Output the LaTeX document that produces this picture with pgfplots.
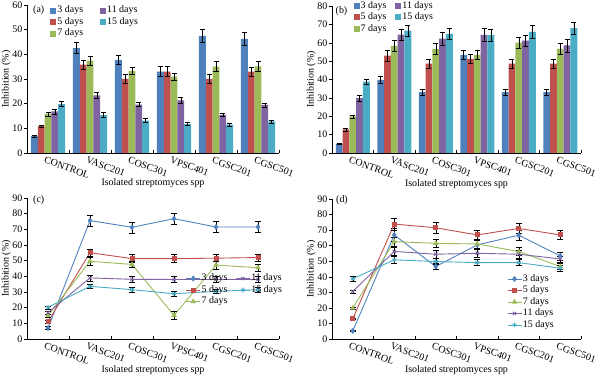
\documentclass[border=0pt]{standalone}
\usepackage{pgfplots}
\usepackage{pgfplotstable}
\pgfplotsset{compat=1.18}
\usepackage{fontspec}
\setmainfont{Liberation Serif}
\newcommand{\fsz}{\fontsize{10}{12}\selectfont}
\definecolor{cA}{HTML}{4F81BD}
\definecolor{cB}{HTML}{C0504D}
\definecolor{cC}{HTML}{9BBB59}
\definecolor{cD}{HTML}{8064A2}
\definecolor{cE}{HTML}{4BACC6}

% x: 0 CONTROL,1 VASC201,2 COSC301,3 VPSC401,4 CGSC201,5 CGSC501
\pgfplotstableread{
x  a    ea   b    eb   c    ec   d    ed   e    ee
0  6.8  0.5  10.9 0.5  15.9 0.8  16.9 1.0  19.8 1.0
1  42.5 2.2  35.8 2.0  37.4 2.0  23.4 1.2  15.4 1.0
2  37.8 2.0  30.0 1.8  33.3 1.5  19.6 0.8  13.1 0.8
3  33.0 2.0  33.0 2.0  31.0 1.5  21.3 1.3  11.7 0.6
4  47.5 2.5  30.0 1.8  35.0 2.0  15.5 0.8  11.5 0.6
5  46.3 2.5  33.0 1.8  35.1 2.0  19.5 0.8  12.8 0.6
}\tabA
\pgfplotstableread{
x  a    ea   b    eb   c    ec   d    ed   e    ee
0  4.9  0.3  12.8 0.8  19.9 0.8  29.9 1.5  38.9 1.5
1  39.8 2.0  53.0 2.8  58.3 3.0  64.4 3.2  66.6 3.0
2  33.1 1.5  48.6 2.5  56.7 3.0  62.3 3.5  64.8 3.0
3  53.4 2.5  51.2 2.5  53.4 2.5  64.3 3.5  64.1 3.5
4  33.1 1.5  48.6 2.5  60.1 3.0  61.2 3.0  65.9 3.5
5  33.1 1.5  48.6 2.5  56.7 3.0  58.6 3.5  67.9 3.5
}\tabB
\pgfplotstableread{
x  a    ea   b    eb   c    ec   d    ed   e    ee
0  7.0  1.0  11.0 1.0  15.0 1.0  16.8 1.0  20.2 1.0
1  75.6 3.5  55.1 2.2  49.6 2.5  39.0 2.0  33.6 1.5
2  71.3 3.5  51.3 2.5  47.6 2.0  38.1 2.0  31.5 1.5
3  76.8 3.5  51.3 2.5  15.1 2.5  38.0 2.0  28.9 1.5
4  71.5 3.5  51.6 2.2  47.2 2.5  38.0 2.0  30.4 1.5
5  71.5 3.5  52.0 2.2  45.5 2.5  38.0 2.0  31.5 1.5
}\tabC
\pgfplotstableread{
x  a    ea   b    eb   c    ec   d    ed   e    ee
0  5.2  0.5  13.0 0.5  19.9 0.5  30.6 1.0  38.7 1.5
1  66.9 4.0  73.9 4.0  62.6 3.0  56.3 2.5  50.9 2.0
2  46.6 2.0  71.5 3.5  61.5 2.5  54.5 2.5  49.8 2.0
3  60.5 3.0  66.9 3.0  61.1 2.5  55.1 2.5  49.1 2.0
4  66.7 3.0  71.1 3.0  56.2 2.5  54.5 2.5  49.1 2.0
5  53.4 2.5  66.9 3.0  46.6 2.0  51.5 2.0  45.5 2.0
}\tabD

\pgfplotsset{
  panel/.style={
    scale only axis, width=252bp,
    axis x line*=bottom, axis y line*=left,
    xmin=-0.5, xmax=5.5, ymin=0, clip=false,
    xtick={0,...,5},
    xticklabels={CONTROL,VASC201,COSC301,VPSC401,CGSC201,CGSC501},
    minor xtick={-0.5,0.5,...,5.5},
    tick align=outside,
    major tick length=3bp, minor tick length=3bp,
    major x tick style={draw=none},
    minor x tick style={yshift=3bp},
    tick style={black, line width=0.5bp},
    axis line style={black, line width=0.6bp},
    xticklabel style={rotate=-20, anchor=north west, inner sep=1bp, xshift=-3bp, font=\fsz},
    yticklabel style={font=\fsz, inner sep=1.5bp},
    /pgf/number format/assume math mode=true,
    ylabel={Inhibition (\%)}, xlabel={Isolated streptomyces spp},
    label style={font=\fsz},
    ylabel style={at={(axis description cs:-0.064,0.5)}, anchor=south, inner sep=0pt},
    legend cell align=left,
    legend style={draw=none, fill=none, inner sep=0pt, outer sep=0pt, font=\fsz,
      nodes={inner sep=1bp, text height=7bp, text depth=2.5bp}, row sep=0pt},
  },
  barpanel/.style={panel, ybar=0pt, bar width=6.8bp,
    legend image code/.code={\fill[##1] (0bp,-3bp) rectangle (6bp,3bp);},
    error bars/error bar style={draw=black, line width=0.5bp},
    error bars/error mark options={draw=black, rotate=90, mark size=2.5bp, line width=0.5bp},
  },
  linepanel/.style={panel, ytick={0,10,...,90}, ymax=90,
    legend image code/.code={\draw[mark repeat=2, mark phase=2, ##1] plot coordinates {(0bp,0bp) (7bp,0bp) (14bp,0bp)};},
    every axis plot/.append style={line width=0.9bp, mark size=2.3bp},
    error bars/error bar style={draw=black, line width=0.5bp, solid},
    error bars/error mark options={draw=black, rotate=90, mark size=3bp, line width=0.5bp},
  },
}

\begin{document}
\begin{tikzpicture}
\path[use as bounding box] (0,0) rectangle (601bp,379bp);

% ---------- (a) ----------
\begin{axis}[barpanel, at={(27bp,226bp)}, anchor=south west, height=148bp,
  ymax=60, ytick={0,10,...,60},
  xlabel style={at={(axis description cs:0.5,-0.17)}, anchor=north, inner sep=0pt},
  legend columns=3, transpose legend,
  legend style={at={(axis description cs:0.093,1.0)}, anchor=north west,
    /tikz/every even column/.append style={column sep=16bp}}]
\addplot[fill=cA, draw=none, error bars/.cd, y dir=both, y explicit] table[x=x, y=a, y error=ea] {\tabA};
\addplot[fill=cB, draw=none, error bars/.cd, y dir=both, y explicit] table[x=x, y=b, y error=eb] {\tabA};
\addplot[fill=cC, draw=none, error bars/.cd, y dir=both, y explicit] table[x=x, y=c, y error=ec] {\tabA};
\addplot[fill=cD, draw=none, error bars/.cd, y dir=both, y explicit] table[x=x, y=d, y error=ed] {\tabA};
\addplot[fill=cE, draw=none, error bars/.cd, y dir=both, y explicit] table[x=x, y=e, y error=ee] {\tabA};
\legend{3 days,5 days,7 days,11 days,15 days}
\node[anchor=west, inner sep=0pt, font=\fsz] at (axis description cs:0.024,0.966) {(a)};
\end{axis}

% ---------- (b) ----------
\begin{axis}[barpanel, at={(332bp,226bp)}, anchor=south west, height=147bp, width=249bp,
  ymax=80, ytick={0,10,...,80},
  xlabel style={at={(axis description cs:0.5,-0.177)}, anchor=north, inner sep=0pt},
  legend columns=3, transpose legend,
  legend style={at={(axis description cs:0.087,1.04)}, anchor=north west,
    /tikz/every even column/.append style={column sep=8bp}}]
\addplot[fill=cA, draw=none, error bars/.cd, y dir=both, y explicit] table[x=x, y=a, y error=ea] {\tabB};
\addplot[fill=cB, draw=none, error bars/.cd, y dir=both, y explicit] table[x=x, y=b, y error=eb] {\tabB};
\addplot[fill=cC, draw=none, error bars/.cd, y dir=both, y explicit] table[x=x, y=c, y error=ec] {\tabB};
\addplot[fill=cD, draw=none, error bars/.cd, y dir=both, y explicit] table[x=x, y=d, y error=ed] {\tabB};
\addplot[fill=cE, draw=none, error bars/.cd, y dir=both, y explicit] table[x=x, y=e, y error=ee] {\tabB};
\legend{3 days,5 days,7 days,11 days,15 days}
\node[anchor=west, inner sep=0pt, font=\fsz] at (axis description cs:0.014,0.966) {(b)};
\end{axis}

% ---------- (c) ----------
\begin{axis}[linepanel, at={(27bp,40bp)}, anchor=south west, height=141bp,
  xlabel style={at={(axis description cs:0.5,-0.19)}, anchor=north, inner sep=0pt},
  legend columns=3, transpose legend,
  legend style={at={(axis description cs:0.63,0.47)}, anchor=north west,
    /tikz/every even column/.append style={column sep=7bp}}]
\addplot[color=cA, mark=diamond*, error bars/.cd, y dir=both, y explicit] table[x=x, y=a, y error=ea] {\tabC};
\addplot[color=cB, mark=square*, mark size=2bp, error bars/.cd, y dir=both, y explicit] table[x=x, y=b, y error=eb] {\tabC};
\addplot[color=cC, mark=triangle*, error bars/.cd, y dir=both, y explicit] table[x=x, y=c, y error=ec] {\tabC};
\addplot[color=cD, mark=x, error bars/.cd, y dir=both, y explicit] table[x=x, y=d, y error=ed] {\tabC};
\addplot[color=cE, mark=asterisk, error bars/.cd, y dir=both, y explicit] table[x=x, y=e, y error=ee] {\tabC};
\legend{3 days,5 days,7 days,11 days,15 days}
\node[anchor=west, inner sep=0pt, font=\fsz] at (axis description cs:0.024,0.986) {(c)};
\end{axis}

% ---------- (d) ----------
\begin{axis}[linepanel, at={(332bp,40bp)}, anchor=south west, height=140bp, width=249bp,
  xlabel style={at={(axis description cs:0.5,-0.186)}, anchor=north, inner sep=0pt},
  legend style={at={(axis description cs:0.703,0.47)}, anchor=north west}]
\addplot[color=cA, mark=diamond*, error bars/.cd, y dir=both, y explicit] table[x=x, y=a, y error=ea] {\tabD};
\addplot[color=cB, mark=square*, mark size=2bp, error bars/.cd, y dir=both, y explicit] table[x=x, y=b, y error=eb] {\tabD};
\addplot[color=cC, mark=triangle*, error bars/.cd, y dir=both, y explicit] table[x=x, y=c, y error=ec] {\tabD};
\addplot[color=cD, mark=x, error bars/.cd, y dir=both, y explicit] table[x=x, y=d, y error=ed] {\tabD};
\addplot[color=cE, mark=asterisk, error bars/.cd, y dir=both, y explicit] table[x=x, y=e, y error=ee] {\tabD};
\legend{3 days,5 days,7 days,11 days,15 days}
\node[anchor=west, inner sep=0pt, font=\fsz] at (axis description cs:0.016,0.993) {(d)};
\end{axis}
\end{tikzpicture}
\end{document}
